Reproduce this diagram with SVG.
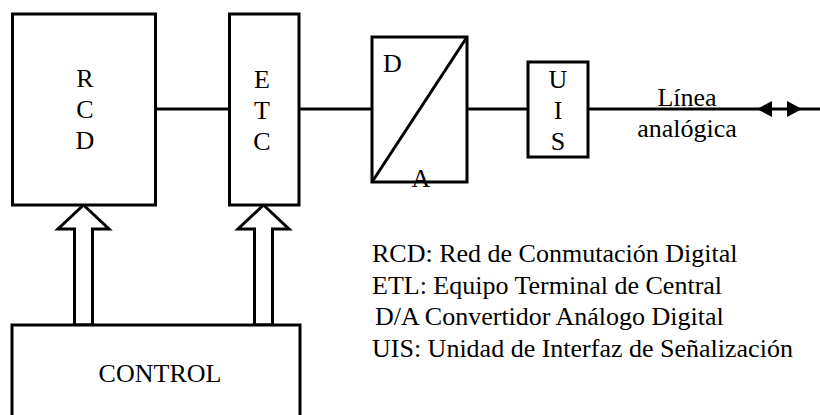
<svg xmlns="http://www.w3.org/2000/svg" width="820" height="415" viewBox="0 0 820 415">
<style>
  .box { fill: #ffffff; stroke: #000000; stroke-width: 3; }
  .line { fill: none; stroke: #000000; stroke-width: 3; }
  .blk { fill: #ffffff; stroke: #000000; stroke-width: 3; stroke-linejoin: miter; }
  .head { fill: #000000; stroke: none; }
  text { font-family: "Liberation Serif", "Times New Roman", serif; font-size: 26px; fill: #000000; }
  .c { text-anchor: middle; }
</style>
<rect width="820" height="415" fill="#ffffff"/>
<g id="connectors">
  <line class="line" x1="155" y1="109" x2="230" y2="109"/>
  <line class="line" x1="299" y1="109" x2="372" y2="109"/>
  <line class="line" x1="467" y1="109" x2="528" y2="109"/>
  <line class="line" x1="588" y1="109" x2="820" y2="109"/>
  <polygon class="head" points="757,109 772,101 772,117"/>
  <polygon class="head" points="802,109 787,101 787,117"/>
  <polygon class="blk" points="83.5,205 109,229 92.5,229 92.5,325 74.5,325 74.5,229 58,229"/>
  <polygon class="blk" points="263.5,205 289,229 272.5,229 272.5,325 254.5,325 254.5,229 238,229"/>
</g>
<g id="rcd">
  <rect class="box" x="12.5" y="14" width="143" height="191"/>
  <text class="c" x="85" y="87">R</text>
  <text class="c" x="85" y="118">C</text>
  <text class="c" x="85" y="149">D</text>
</g>
<g id="etc">
  <rect class="box" x="229.5" y="14" width="69.5" height="191"/>
  <text class="c" x="262" y="88">E</text>
  <text class="c" x="262" y="119">T</text>
  <text class="c" x="262" y="150">C</text>
</g>
<g id="da">
  <rect class="box" x="372" y="37" width="95" height="145"/>
  <line class="line" x1="372" y1="182" x2="467" y2="37"/>
  <text x="383" y="72">D</text>
  <text class="c" x="421" y="187">A</text>
</g>
<g id="uis">
  <rect class="box" x="528" y="62" width="60" height="95"/>
  <text class="c" x="558" y="88">U</text>
  <text class="c" x="558" y="119">I</text>
  <text class="c" x="558" y="150">S</text>
</g>
<g id="linea">
  <text class="c" x="687" y="106">Línea</text>
  <text class="c" x="687" y="137">analógica</text>
</g>
<g id="control">
  <rect class="box" x="12" y="325" width="288" height="100"/>
  <text class="c" x="160" y="382">CONTROL</text>
</g>
<g id="legend">
  <text x="372" y="262">RCD: Red de Conmutación Digital</text>
  <text x="372" y="294">ETL: Equipo Terminal de Central</text>
  <text x="375" y="325">D/A Convertidor Análogo Digital</text>
  <text x="372" y="357">UIS: Unidad de Interfaz de Señalización</text>
</g>
</svg>
